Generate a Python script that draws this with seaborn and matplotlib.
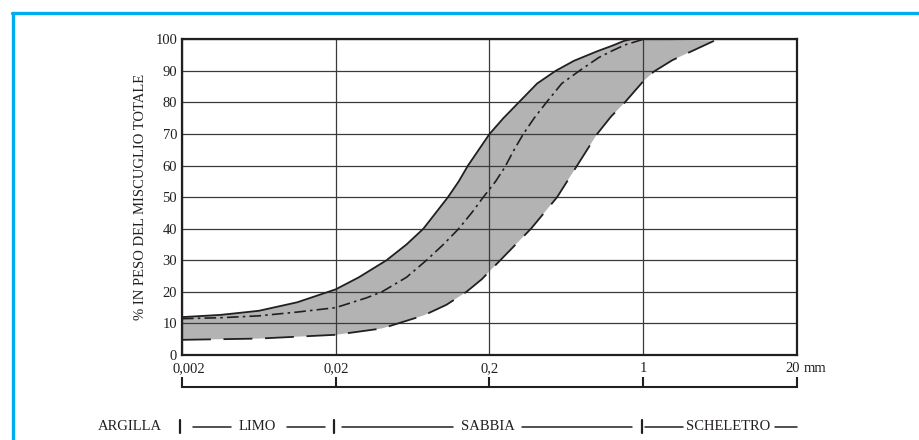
import numpy as np
import pandas as pd
import matplotlib
matplotlib.use("Agg")
import matplotlib.pyplot as plt
import matplotlib.transforms as mtransforms
from matplotlib.lines import Line2D
import seaborn as sns

# ---- data (x = position on the grain-size scale, 0..4 = 0,002 .. 20 mm) ----
tick_labels = ["0,002", "0,02", "0,2", "1", "20"]
tick_pos = [0, 1, 2, 3, 4]
y_ticks = [0, 10, 20, 30, 40, 50, 60, 70, 80, 90, 100]

upper_x = [0, 0.25, 0.5, 0.75, 1.0, 1.15, 1.33, 1.46, 1.57, 1.65, 1.73, 1.80,
           1.86, 1.93, 2.0, 2.09, 2.19, 2.31, 2.43, 2.55, 2.70, 2.80, 2.875, 2.92]
upper_y = [12, 12.7, 14, 16.7, 20.8, 24.6, 30, 35, 40, 45, 50, 55,
           60, 65, 70, 75, 80, 86, 90, 93.2, 96.2, 98, 99.5, 100]

middle_x = [0, 0.25, 0.5, 0.75, 1.0, 1.2, 1.30, 1.46, 1.59, 1.70, 1.80, 1.89,
            1.96, 2.04, 2.10, 2.16, 2.22, 2.29, 2.37, 2.47, 2.59, 2.71, 2.80, 2.88, 3.0]
middle_y = [11.5, 11.8, 12.4, 13.6, 15, 18.1, 20, 24.6, 30, 35, 40, 45.4,
            50, 55, 59.5, 65, 70, 75, 80, 86, 90.2, 94.2, 96.4, 98.2, 100]

lower_x = [0, 0.5, 1.0, 1.30, 1.57, 1.72, 1.85, 1.95, 2.07, 2.27, 2.44, 2.57,
           2.70, 2.79, 2.88, 3.0, 3.07, 3.19, 3.46]
lower_y = [4.8, 5.2, 6.4, 8.4, 12.5, 15.9, 20, 24, 30, 40, 50, 60,
           70, 75.5, 80, 86.7, 89.8, 93.4, 99.5]

classes = ["ARGILLA", "LIMO", "SABBIA", "SCHELETRO"]

# ---- style ----
sns.set_theme(style="white")
plt.rcParams["font.family"] = ["Liberation Serif", "DejaVu Serif"]
plt.rcParams["font.size"] = 10.5

INK = "#231f20"
GRAY = "#b3b3b3"
BLUE = "#00aeef"

fig = plt.figure(figsize=(9.2, 4.4), dpi=100)
ax = fig.add_axes([0.1978, 0.1932, 0.6685, 0.7175])

# band between the upper and lower limits
ax.fill(np.r_[upper_x, lower_x[::-1]], np.r_[upper_y, lower_y[::-1]],
        color=GRAY, lw=0, zorder=0.2)

up = pd.DataFrame({"x": upper_x, "y": upper_y})
mid = pd.DataFrame({"x": middle_x, "y": middle_y})
low = pd.DataFrame({"x": lower_x, "y": lower_y})
sns.lineplot(data=up, x="x", y="y", ax=ax, color=INK, lw=1.3,
             estimator=None, sort=False, zorder=3)
sns.lineplot(data=mid, x="x", y="y", ax=ax, color=INK, lw=1.2,
             linestyle=(0, (7, 2.5, 1.5, 2.5)), estimator=None, sort=False, zorder=3)
sns.lineplot(data=low, x="x", y="y", ax=ax, color=INK, lw=1.3,
             linestyle=(0, (16, 7)), estimator=None, sort=False, zorder=3)

ax.set_xlim(0, 4)
ax.set_ylim(0, 100)
ax.set_xticks(tick_pos)
ax.set_xticklabels(tick_labels)
ax.set_yticks(y_ticks)
ax.set_yticklabels([str(v) for v in y_ticks])
ax.tick_params(axis="both", length=0, labelsize=10.5, colors=INK)
ax.tick_params(axis="x", pad=5)
ax.tick_params(axis="y", pad=3.5)
ax.grid(True, color="#3a3a3a", lw=0.9)
ax.set_axisbelow(True)
for s in ax.spines.values():
    s.set_visible(True)
    s.set_color(INK)
    s.set_linewidth(1.6)
ax.set_xlabel("")
ax.set_ylabel("% IN PESO DEL MISCUGLIO TOTALE", fontsize=10.5, color=INK, labelpad=6)

# nudge first and last x tick labels like in the original
xl = ax.get_xticklabels()
xl[0].set_transform(xl[0].get_transform() +
                    mtransforms.ScaledTranslation(7 / 100, 0, fig.dpi_scale_trans))
xl[-1].set_transform(xl[-1].get_transform() +
                     mtransforms.ScaledTranslation(-4 / 100, 0, fig.dpi_scale_trans))

# "mm" unit after last tick label
ax.annotate("mm", xy=(4, 0), xycoords=("data", "axes fraction"),
            xytext=(5, -10), textcoords="offset points",
            ha="left", va="center", fontsize=10.5, color=INK)

# bracket scale below the tick labels
sec = ax.secondary_xaxis(-0.101)
sec.set_xticks(tick_pos)
sec.set_xticklabels([])
sec.tick_params(axis="x", direction="in", length=7.2, width=1.5, color=INK)
sec.spines["bottom"].set_color(INK)
sec.spines["bottom"].set_linewidth(1.5)

# class row
tr = ax.get_xaxis_transform()
yrow = -0.228
kw = dict(transform=tr, ha="center", va="center", fontsize=10.5, color=INK, clip_on=False)
ax.text(-0.13, yrow, classes[0], **{**kw, "ha": "right"})
ax.text(0.49, yrow, classes[1], **kw)
ax.text(1.99, yrow, classes[2], **kw)
ax.text(3.55, yrow, classes[3], **kw)
for a, b in [(0.07, 0.32), (0.68, 0.93), (1.04, 1.76), (2.21, 2.93), (3.01, 3.26), (3.86, 4.0)]:
    ax.add_line(Line2D([a, b], [yrow, yrow], transform=tr, color=INK, lw=1.1, clip_on=False))
for xb in [-0.01, 0.99, 2.99]:
    ax.add_line(Line2D([xb, xb], [yrow - 0.02, yrow + 0.022], transform=tr,
                       color=INK, lw=1.6, clip_on=False))

# blue frame (left and top edges)
fig.add_artist(Line2D([13.5 / 920, 13.5 / 920], [0, 1 - 13.5 / 440],
                      transform=fig.transFigure, color=BLUE, lw=2.4))
fig.add_artist(Line2D([12.5 / 920, 1], [1 - 13.5 / 440, 1 - 13.5 / 440],
                      transform=fig.transFigure, color=BLUE, lw=2.4))

fig.savefig("out.png", dpi=100, facecolor="white")
